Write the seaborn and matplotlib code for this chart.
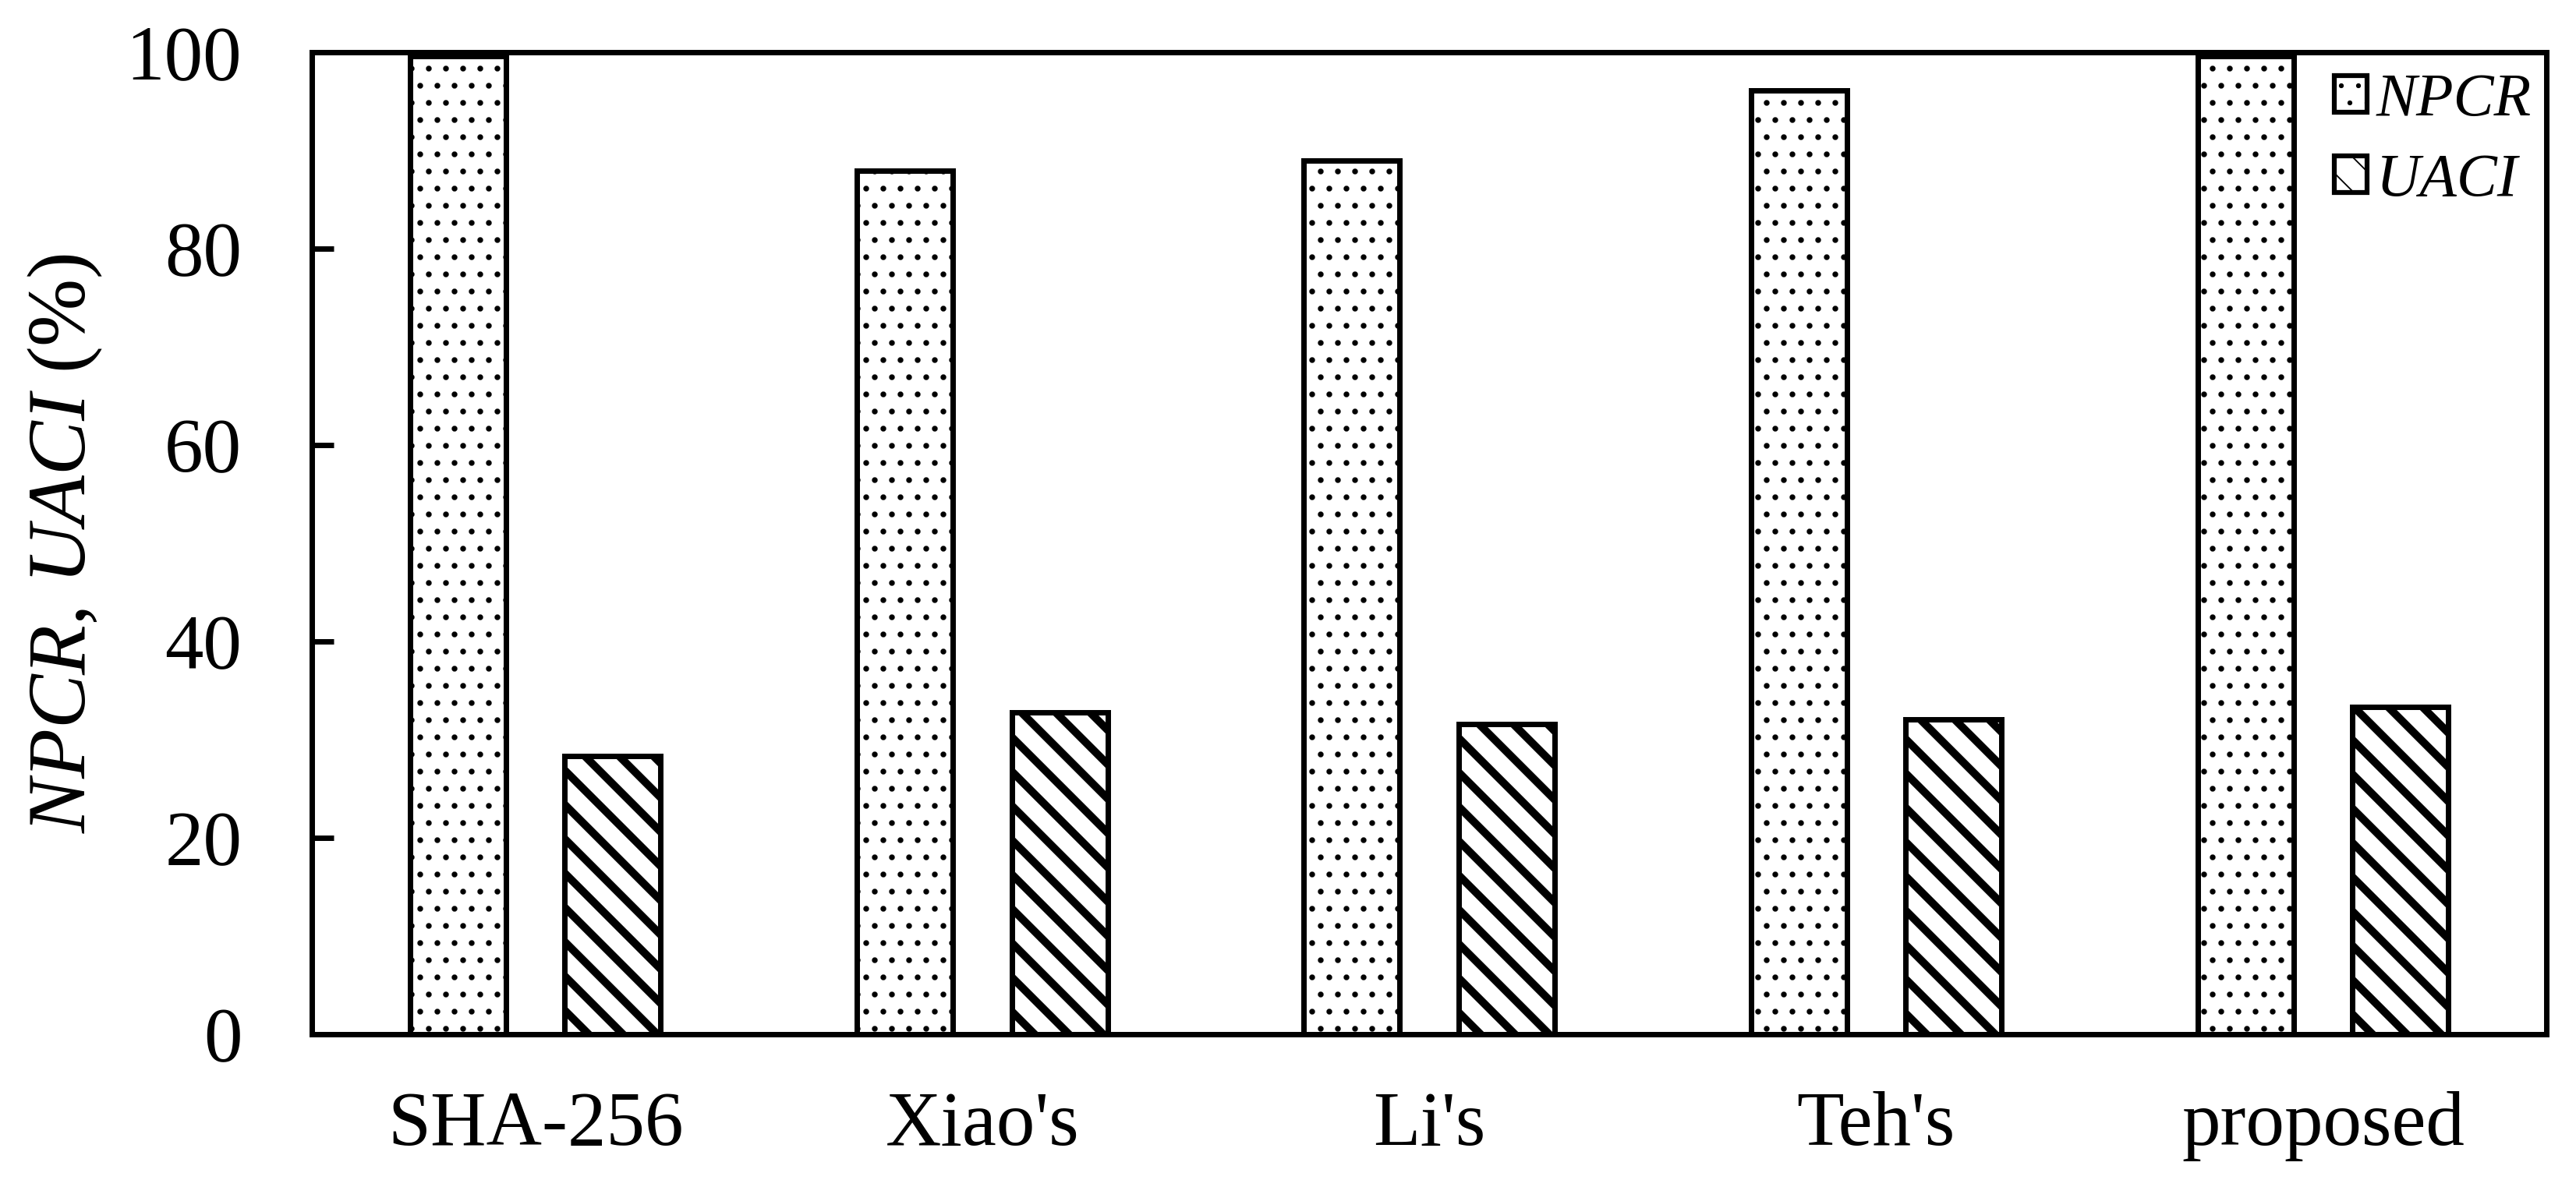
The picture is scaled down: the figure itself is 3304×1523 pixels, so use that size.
import pandas as pd
import matplotlib
matplotlib.use("Agg")
import matplotlib.pyplot as plt
from matplotlib.patches import Patch
import seaborn as sns

# data
methods = ["SHA-256", "Xiao's", "Li's", "Teh's", "proposed"]
npcr = [99.61, 87.9, 89.0, 96.1, 99.61]
uaci = [28.3, 32.8, 31.6, 32.1, 33.3]
metrics = ["NPCR", "UACI"]
hatches = {"NPCR": ".", "UACI": "\\"}
hatch_lw = {"NPCR": 1.6, "UACI": 5.5}

df = pd.DataFrame({
    "method": methods * 2,
    "metric": ["NPCR"] * len(methods) + ["UACI"] * len(methods),
    "value": npcr + uaci,
})

sns.set_style("ticks")
plt.rcParams["font.family"] = ["Liberation Serif", "DejaVu Serif"]
plt.rcParams["mathtext.fontset"] = "custom"
plt.rcParams["mathtext.rm"] = "Liberation Serif"
plt.rcParams["mathtext.it"] = "Liberation Serif:italic"
plt.rcParams["hatch.color"] = "black"
for k in ["text.color", "axes.labelcolor", "xtick.color", "ytick.color", "axes.edgecolor"]:
    plt.rcParams[k] = "black"

DPI = 132
fig = plt.figure(figsize=(3304 / DPI, 1523 / DPI), dpi=DPI)
ax = fig.add_axes([0.1211, 0.1287, 0.8674, 0.8273])

sns.barplot(data=df, x="method", y="value", hue="metric", hue_order=metrics,
            order=methods, palette=["white", "white"], saturation=1,
            edgecolor="black", linewidth=3.8, width=0.692, gap=0.38,
            errorbar=None, legend=False, ax=ax)

# hatch patterns for the two series
for cont, m in zip(ax.containers, metrics):
    for bar in cont:
        bar.set_hatch(hatches[m])
        bar.set_hatch_linewidth(hatch_lw[m])

ax.set_ylim(0, 100)
ax.set_yticks([0, 20, 40, 60, 80, 100])
ax.set_xlabel("")
ax.set_ylabel(r"$\mathit{NPCR}$, $\mathit{UACI}$ (%)", fontsize=57, labelpad=15)

for s in ax.spines.values():
    s.set_linewidth(3.8)
    s.set_color("black")
    s.set_visible(True)

ax.tick_params(axis="y", direction="in", length=15, width=3.8, pad=49,
               labelsize=54, right=False, colors="black")
ax.tick_params(axis="x", length=0, pad=40, labelsize=54, colors="black")

handles = []
for m in metrics:
    p = Patch(facecolor="white", edgecolor="black", linewidth=3.4, hatch=hatches[m])
    p.set_hatch_linewidth(hatch_lw[m])
    handles.append(p)
ax.legend(handles=handles, labels=metrics, loc="upper right",
          bbox_to_anchor=(0.9934, 0.979), frameon=False, borderpad=0,
          borderaxespad=0, handlelength=0.54, handleheight=0.55,
          handletextpad=0.15, labelspacing=0.41,
          prop={"family": "Liberation Serif", "style": "italic", "size": 42.5})

fig.savefig("out.png", dpi=DPI)
